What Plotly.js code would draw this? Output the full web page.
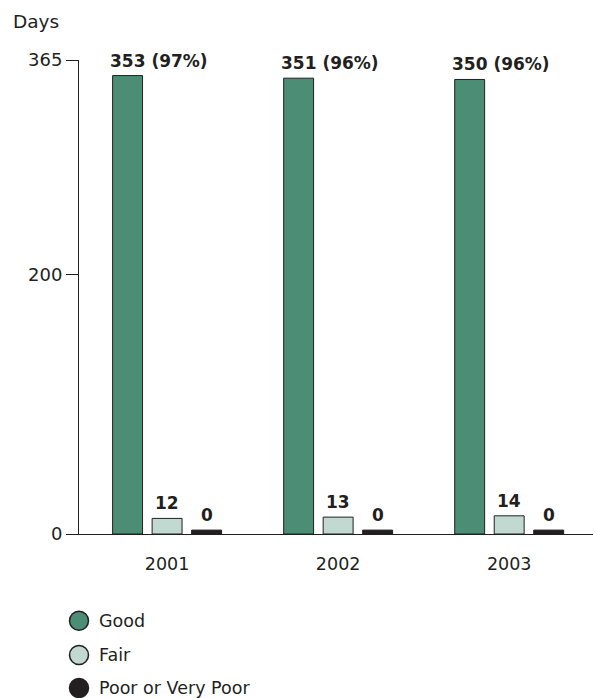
<!DOCTYPE html>
<html>
<head>
<meta charset="utf-8">
<script src="https://cdn.plot.ly/plotly-3.0.1.min.js"></script>
<style>html,body{margin:0;padding:0;background:#fff}#chart{width:595px;height:698px}</style>
</head>
<body>
<div id="chart"></div>
<script>
// ---- data ----
const years = ["2001", "2002", "2003"];
const seriesNames = ["Good", "Fair", "Poor or Very Poor"];
const goodDays = [353, 351, 350];
const goodPct = [97, 96, 96];
const fairDays = [12, 13, 14];
const poorDays = [0, 0, 0];
const yTickVals = [0, 200, 365];

// ---- styles ----
const colors = ["#4b8d75", "#c1d9d0", "#231f20"];
const outline = "#231f20";
const FONT = "DejaVu Sans, sans-serif";
const BW = 0.175;           // bar width (category units)
const offs = [-0.231, 0, 0.231]; // bar centre offsets
const minVisible = 3;       // zero bars are drawn as a thin sliver

const valsList = [goodDays, fairDays, poorDays];
const traces = valsList.map((vals, k) => ({
  type: "bar",
  x: years.map((_, i) => i),
  y: vals.map(v => Math.max(v, k === 2 ? minVisible : v)),
  width: BW,
  offset: offs[k] - BW / 2,
  marker: {color: colors[k], line: {color: outline, width: 1}},
  name: seriesNames[k],
  showlegend: false,
  hoverinfo: "skip"
}));

const annotations = [];
years.forEach((yr, i) => {
  annotations.push({
    x: i + offs[0] - BW / 2, y: Math.max(goodDays[i], 0), xref: "x", yref: "y",
    text: goodDays[i] + " (" + goodPct[i] + "%)", showarrow: false,
    xanchor: "left", yanchor: "bottom", xshift: -5, yshift: 3,
    font: {family: FONT, size: 17, color: "#231f20", weight: "bold"}
  });
  annotations.push({
    x: i + offs[1], y: fairDays[i], xref: "x", yref: "y",
    text: String(fairDays[i]), showarrow: false,
    xanchor: "center", yanchor: "bottom", yshift: 3,
    font: {family: FONT, size: 17, color: "#231f20", weight: "bold"}
  });
  annotations.push({
    x: i + offs[2], y: Math.max(poorDays[i], minVisible), xref: "x", yref: "y",
    text: String(poorDays[i]), showarrow: false,
    xanchor: "center", yanchor: "bottom", yshift: 3,
    font: {family: FONT, size: 17, color: "#231f20", weight: "bold"}
  });
});

// axis title "Days"
annotations.push({
  x: 12, y: 698 - 13, xref: "paper", yref: "paper", text: "Days", showarrow: false
});
annotations.pop();

const plotH = 698 - 60 - 164;
const px2py = p => (534 - p) / plotH;
const px2px = p => (p - 79) / (595 - 79 - 2);

annotations.push({
  x: px2px(11), y: px2py(34), xref: "paper", yref: "paper", text: "Days",
  showarrow: false, xanchor: "left", yanchor: "bottom",
  font: {family: FONT, size: 18.5, color: "#231f20"}
});

// manual legend with circles
const shapes = [];
const legendY = [620.7, 655, 688];
seriesNames.forEach((nm, k) => {
  shapes.push({
    type: "circle", xref: "paper", yref: "paper",
    xsizemode: "pixel", ysizemode: "pixel",
    xanchor: px2px(79), yanchor: px2py(legendY[k]),
    x0: -9.5, x1: 9.5, y0: -9.5, y1: 9.5,
    fillcolor: colors[k], line: {color: outline, width: 1.5}
  });
  annotations.push({
    x: px2px(97), y: px2py(legendY[k]), xref: "paper", yref: "paper",
    text: nm, showarrow: false, xanchor: "left", yanchor: "middle",
    font: {family: FONT, size: 17.5, color: "#231f20"}
  });
});

const layout = {
  width: 595, height: 698,
  margin: {l: 79, r: 2, t: 60, b: 164},
  paper_bgcolor: "#fff", plot_bgcolor: "#fff",
  showlegend: false,
  font: {family: FONT, size: 18, color: "#231f20"},
  xaxis: {
    type: "linear", range: [-0.515, 2.49],
    tickmode: "array", tickvals: years.map((_, i) => i), ticktext: years,
    ticks: "", showgrid: false, zeroline: false,
    showline: true, linecolor: "#231f20", linewidth: 1,
    ticklabelstandoff: 14,
    tickfont: {family: FONT, size: 17.5, color: "#231f20"}
  },
  yaxis: {
    range: [0, 365], tickmode: "array", tickvals: yTickVals,
    ticks: "outside", ticklen: 12, tickwidth: 1, tickcolor: "#231f20",
    showgrid: false, zeroline: false,
    showline: true, linecolor: "#231f20", linewidth: 1,
    tickfont: {family: FONT, size: 18, color: "#231f20"}
  },
  annotations: annotations,
  shapes: shapes
};

Plotly.newPlot("chart", traces, layout, {displayModeBar: false, staticPlot: true});
</script>
</body>
</html>
